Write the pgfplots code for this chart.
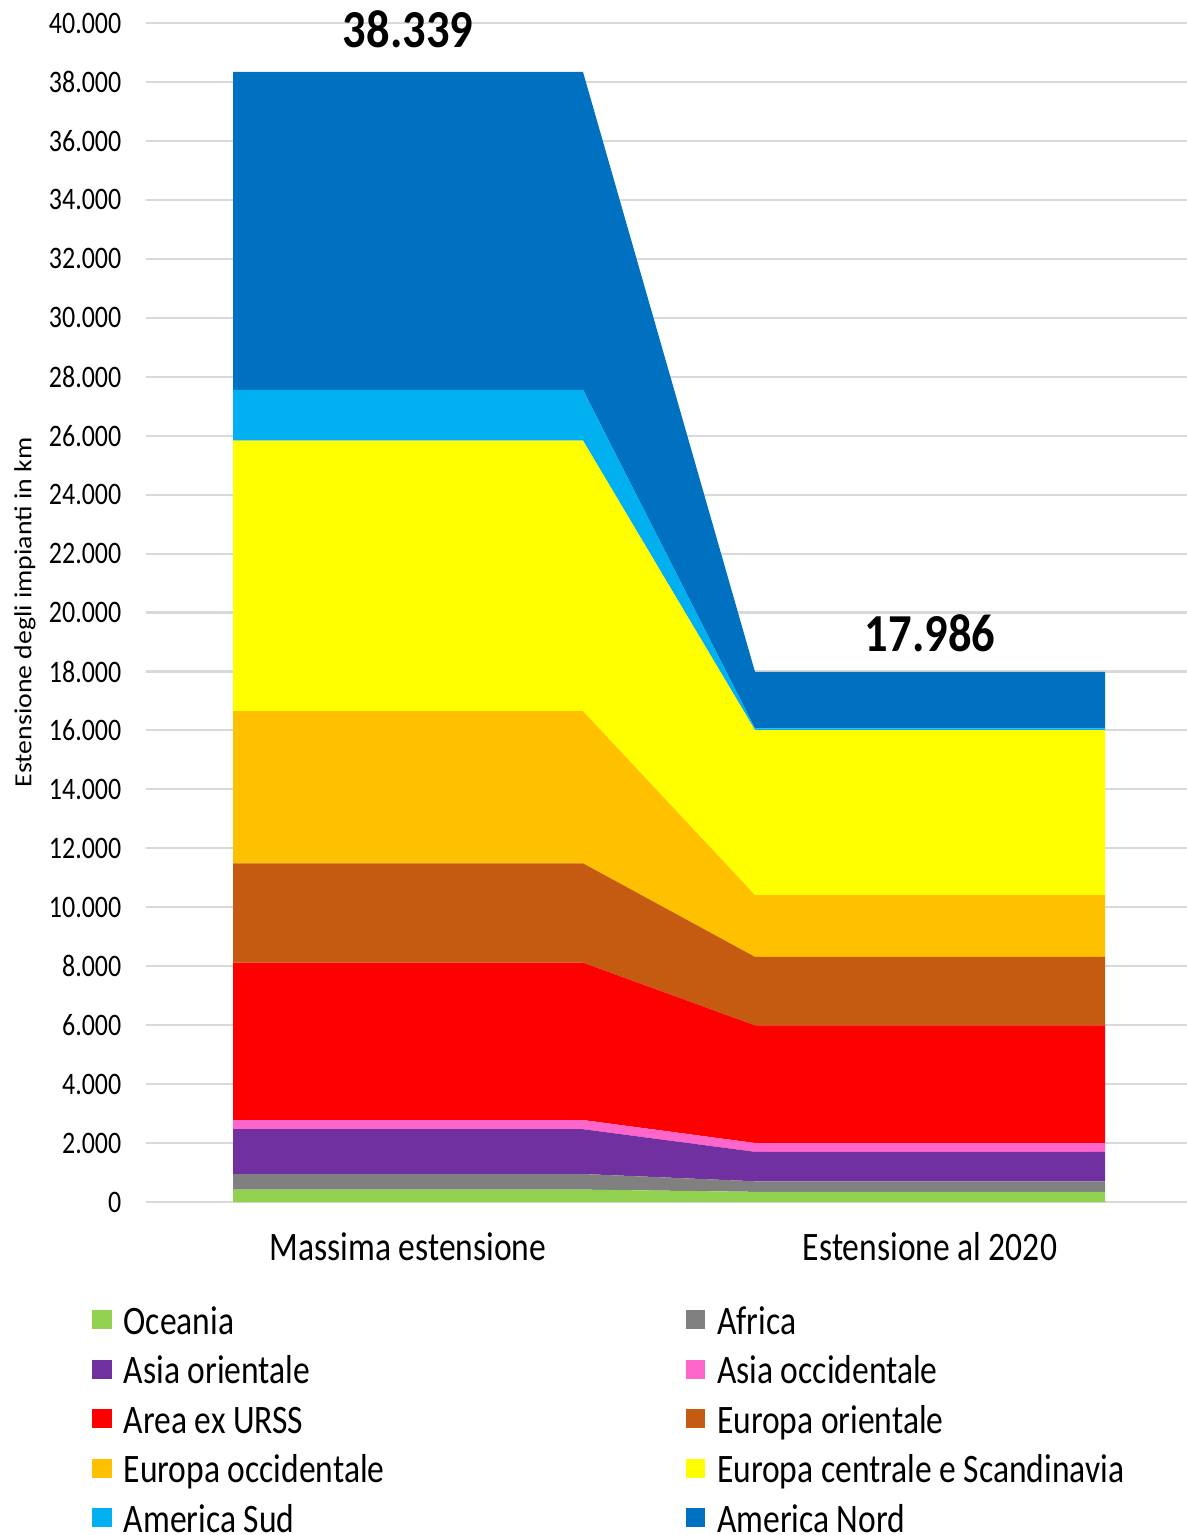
\documentclass[border=0pt]{standalone}
\usepackage{pgfplots}
\pgfplotsset{compat=1.18}
\usepackage{fontspec}
\setmainfont{Carlito}[FakeStretch=0.83]
\newfontfamily\ylabfont{Carlito}[FakeStretch=1.13]
\newfontfamily\numfont{Carlito}[FakeStretch=0.87]

\definecolor{cOce}{HTML}{92D050}
\definecolor{cAfr}{HTML}{808080}
\definecolor{cAsO}{HTML}{7030A0}
\definecolor{cAsW}{HTML}{FF66CC}
\definecolor{cURS}{HTML}{FF0000}
\definecolor{cEuE}{HTML}{C55A11}
\definecolor{cEuW}{HTML}{FFC000}
\definecolor{cEuC}{HTML}{FFFF00}
\definecolor{cAmS}{HTML}{00B0F0}
\definecolor{cAmN}{HTML}{0070C0}
\definecolor{gridgray}{HTML}{D9D9D9}

\begin{document}
\begin{tikzpicture}
\useasboundingbox (-14.6mm,-33.3mm) rectangle (104.1mm,120.2mm);
\begin{axis}[
  at={(0,0)}, anchor=south west,
  scale only axis, width=104.1mm, height=117.9mm,
  xmin=146, xmax=1187, ymin=0, ymax=40000,
  clip=false,
  stack plots=y,
  axis line style={draw=none},
  major tick length=0pt,
  ytick={0,2000,...,40000},
  ymajorgrids, grid style={line width=0.6pt, color=gridgray},
  xtick={408,930},
  xticklabels={Massima estensione, Estensione al 2020},
  scaled y ticks=false,
  /pgf/number format/1000 sep={.},
  /pgf/number format/assume math mode=true,
  yticklabel style={font=\fontsize{8.9}{10}\selectfont, inner sep=0pt, xshift=-2.4mm},
  xticklabel style={font=\fontsize{11.5}{13}\selectfont, inner sep=0pt, anchor=base, yshift=-5.8mm},
  every axis y label/.style={at={(axis description cs:-0.1162,0.5)}, rotate=90, anchor=center},
  ylabel={\ylabfont\fontsize{7}{8}\selectfont Estensione degli impianti in km},
  legend columns=2,
  legend cell align=left,
  legend style={at={(axis description cs:-0.0624,-0.08)}, anchor=north west,
    draw=none, fill=none, font=\fontsize{11.5}{13}\selectfont,
    row sep=0.95mm,
    nodes={inner sep=0pt, text height=3mm, text depth=1mm},
    /tikz/every odd column/.append style={column sep=1.2mm},
    /tikz/every even column/.append style={column sep=30.1mm}},
  legend image code/.code={\fill[#1] (0mm,-0.5mm) rectangle (1.95mm,1.4mm);},
]
% cumulative layers: flat segment for each period, slope in between
\addplot[draw=none, fill=cOce] coordinates {(233,420) (583,420) (755,345) (1105,345)} \closedcycle;
\addlegendentry{Oceania}
\addplot[draw=none, fill=cAfr] coordinates {(233,530) (583,530) (755,358) (1105,358)} \closedcycle;
\addlegendentry{Africa}
\addplot[draw=none, fill=cAsO] coordinates {(233,1520) (583,1520) (755,1000) (1105,1000)} \closedcycle;
\addlegendentry{Asia orientale}
\addplot[draw=none, fill=cAsW] coordinates {(233,310) (583,310) (755,298) (1105,298)} \closedcycle;
\addlegendentry{Asia occidentale}
\addplot[draw=none, fill=cURS] coordinates {(233,5340) (583,5340) (755,3991) (1105,3991)} \closedcycle;
\addlegendentry{Area ex URSS}
\addplot[draw=none, fill=cEuE] coordinates {(233,3370) (583,3370) (755,2323) (1105,2323)} \closedcycle;
\addlegendentry{Europa orientale}
\addplot[draw=none, fill=cEuW] coordinates {(233,5160) (583,5160) (755,2096) (1105,2096)} \closedcycle;
\addlegendentry{Europa occidentale}
\addplot[draw=none, fill=cEuC] coordinates {(233,9180) (583,9180) (755,5599) (1105,5599)} \closedcycle;
\addlegendentry{Europa centrale e Scandinavia}
\addplot[draw=none, fill=cAmS] coordinates {(233,1720) (583,1720) (755,60) (1105,60)} \closedcycle;
\addlegendentry{America Sud}
\addplot[draw=none, fill=cAmN] coordinates {(233,10789) (583,10789) (755,1916) (1105,1916)} \closedcycle;
\addlegendentry{America Nord}

\node[font=\numfont\bfseries\fontsize{15.2}{17}\selectfont, anchor=base, inner sep=0pt, yshift=2.4mm] at (axis cs:408,38339) {38.339};
\node[font=\numfont\bfseries\fontsize{15.2}{17}\selectfont, anchor=base, inner sep=0pt, yshift=2.0mm] at (axis cs:930,17986) {17.986};
\end{axis}
\end{tikzpicture}
\end{document}
